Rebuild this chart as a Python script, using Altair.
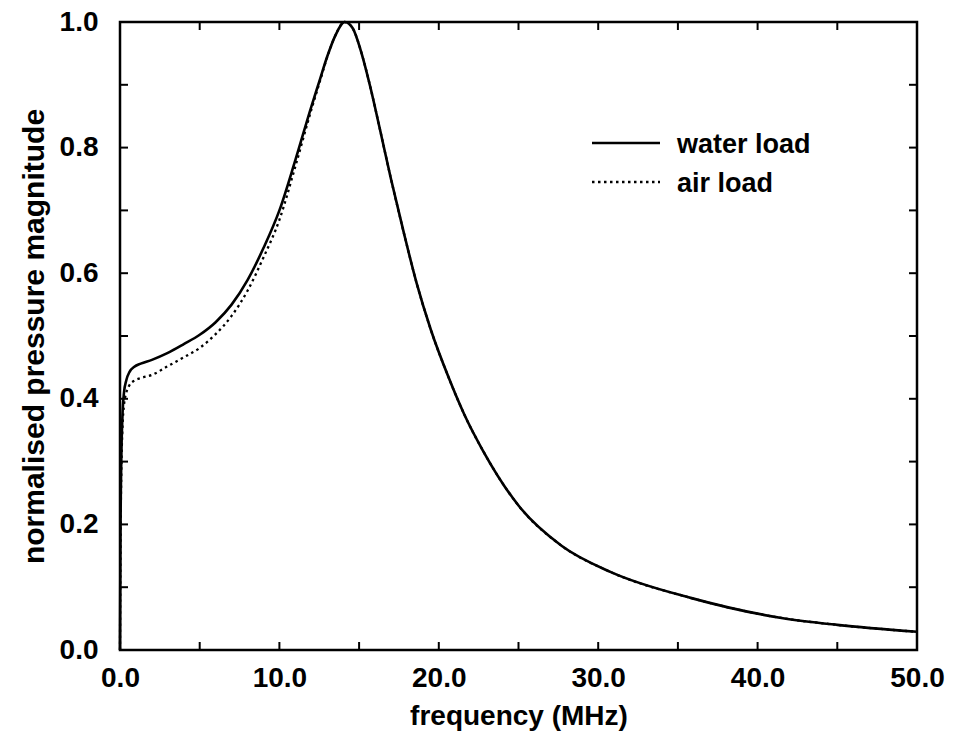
import altair as alt
import pandas as pd

# ---- data ----
freq_water = [0, 0.03, 0.08, 0.15, 0.25, 0.4, 0.6, 0.9, 1.3, 2.0, 3.0, 4.0, 5.0, 6.0, 7.0,
              8.0, 9.0, 10.0, 11.0, 12.0, 12.5, 13.0, 13.5, 14.1, 14.6, 15.1, 15.7, 16.3,
              17.0, 17.8, 18.6, 19.5, 20.6, 21.6, 22.8, 25.0, 27.7, 30.8, 35.8, 41.5, 45.0, 50.0]
water = [0.0, 0.18, 0.30, 0.37, 0.41, 0.43, 0.443, 0.451, 0.456, 0.462, 0.473, 0.487, 0.502,
         0.522, 0.55, 0.589, 0.64, 0.70, 0.78, 0.865, 0.905, 0.945, 0.978, 1.0, 0.99, 0.955,
         0.897, 0.83, 0.75, 0.665, 0.585, 0.51, 0.435, 0.375, 0.316, 0.23, 0.166, 0.124,
         0.083, 0.051, 0.040, 0.029]

freq_air = [0, 0.03, 0.08, 0.15, 0.25, 0.4, 0.6, 0.9, 1.3, 2.0, 3.0, 4.0, 5.0, 6.0, 7.0,
            8.0, 9.0, 10.0, 11.0, 12.0, 12.5, 13.0, 13.5, 14.1, 14.6, 15.1, 15.7, 16.3,
            17.0, 17.8, 18.6, 19.5, 20.6, 21.6, 22.8, 25.0, 27.7, 30.8, 35.8, 41.5, 45.0, 50.0]
air = [0.0, 0.16, 0.28, 0.35, 0.39, 0.41, 0.422, 0.429, 0.433, 0.438, 0.452, 0.466, 0.481,
       0.503, 0.532, 0.572, 0.625, 0.685, 0.77, 0.86, 0.902, 0.944, 0.978, 1.0, 0.99, 0.955,
       0.897, 0.83, 0.75, 0.665, 0.585, 0.51, 0.435, 0.375, 0.316, 0.23, 0.166, 0.124,
       0.083, 0.051, 0.040, 0.029]

x_label_values = [0, 10, 20, 30, 40, 50]
y_label_values = [0.0, 0.2, 0.4, 0.6, 0.8, 1.0]
x_tick_values = [0, 5, 10, 15, 20, 25, 30, 35, 40, 45, 50]
y_tick_values = [0.0, 0.1, 0.2, 0.3, 0.4, 0.5, 0.6, 0.7, 0.8, 0.9, 1.0]
legend_labels = ["water load", "air load"]

# ---- styling ----
W, H = 797, 628
FONT = "Liberation Sans"

xs = alt.Scale(domain=[0, 50], nice=False, zero=False)
ys = alt.Scale(domain=[0, 1], nice=False, zero=False)

x_axis = alt.Axis(values=x_label_values, format=".1f", title="frequency (MHz)",
                  ticks=False, tickSize=0, domain=False, grid=False,
                  labelPadding=14, titlePadding=10, labelFontSize=28, titleFontSize=28,
                  labelFont=FONT, titleFont=FONT, labelFontWeight="bold",
                  titleFontWeight="bold",
                  labelColor="black", titleColor="black", labelFlush=False,
                  labelOverlap=False)
y_axis = alt.Axis(values=y_label_values, format=".1f", title="normalised pressure magnitude",
                  ticks=False, tickSize=0, domain=False, grid=False,
                  labelPadding=22, titlePadding=10, labelFontSize=28, titleFontSize=30,
                  labelFont=FONT, titleFont=FONT, labelFontWeight="bold",
                  titleFontWeight="bold",
                  labelColor="black", titleColor="black", labelFlush=False,
                  labelOverlap=False)

df_w = pd.DataFrame({"f": freq_water, "p": water})
df_a = pd.DataFrame({"f": freq_air, "p": air})
df_xt = pd.DataFrame({"f": x_tick_values})
df_yt = pd.DataFrame({"p": y_tick_values})

air_line = alt.Chart(df_a).mark_line(color="black", strokeWidth=2.3, strokeDash=[2.5, 3.5],
                                     interpolate="monotone").encode(
    x=alt.X("f:Q", scale=xs, axis=x_axis), y=alt.Y("p:Q", scale=ys, axis=y_axis))
water_line = alt.Chart(df_w).mark_line(color="black", strokeWidth=2.6,
                                       interpolate="monotone").encode(
    x=alt.X("f:Q", scale=xs, axis=x_axis), y=alt.Y("p:Q", scale=ys, axis=y_axis))

TL = 8
tick_bottom = alt.Chart(df_xt).mark_rule(color="black", strokeWidth=2).encode(
    x=alt.X("f:Q", scale=xs, axis=x_axis), y=alt.value(H), y2=alt.value(H - TL))
tick_top = alt.Chart(df_xt).mark_rule(color="black", strokeWidth=2).encode(
    x=alt.X("f:Q", scale=xs, axis=x_axis), y=alt.value(0), y2=alt.value(TL))
tick_left = alt.Chart(df_yt).mark_rule(color="black", strokeWidth=2).encode(
    y=alt.Y("p:Q", scale=ys, axis=y_axis), x=alt.value(0), x2=alt.value(TL))
tick_right = alt.Chart(df_yt).mark_rule(color="black", strokeWidth=2).encode(
    y=alt.Y("p:Q", scale=ys, axis=y_axis), x=alt.value(W), x2=alt.value(W - TL))

df_l1 = pd.DataFrame({"label": [legend_labels[0]]})
df_l2 = pd.DataFrame({"label": [legend_labels[1]]})
leg_line1 = alt.Chart(df_l1).mark_rule(color="black", strokeWidth=2.5).encode(
    x=alt.value(472), x2=alt.value(540), y=alt.value(121))
leg_line2 = alt.Chart(df_l2).mark_rule(color="black", strokeWidth=2.3,
                                       strokeDash=[2.5, 3.5]).encode(
    x=alt.value(472), x2=alt.value(540), y=alt.value(160))
leg_text1 = alt.Chart(df_l1).mark_text(align="left", baseline="alphabetic", font=FONT,
                                       fontSize=27, fontWeight="bold", color="black").encode(
    text="label:N", x=alt.value(557), y=alt.value(131))
leg_text2 = alt.Chart(df_l2).mark_text(align="left", baseline="alphabetic", font=FONT,
                                       fontSize=27, fontWeight="bold", color="black").encode(
    text="label:N", x=alt.value(557), y=alt.value(170))

chart = alt.layer(
    air_line, water_line, tick_bottom, tick_top, tick_left, tick_right,
    leg_line1, leg_line2, leg_text1, leg_text2
).properties(
    width=W, height=H,
    padding={"left": 120, "top": 22, "right": 37, "bottom": 88},
    autosize=alt.AutoSizeParams(type="none"),
    background="white",
).configure_view(stroke="black", strokeWidth=2.5)

chart.save("out.html", embed_options={"renderer": "svg", "actions": False})
